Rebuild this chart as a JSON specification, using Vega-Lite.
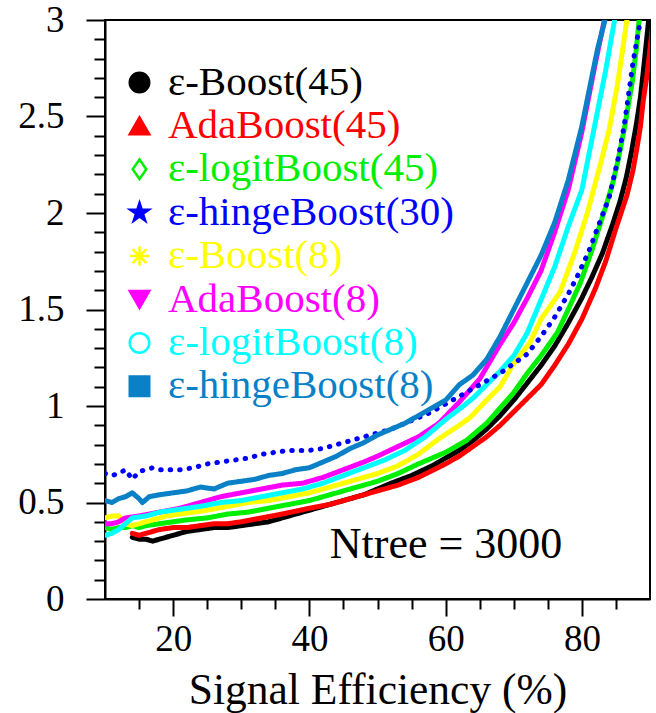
{
  "$schema": "https://vega.github.io/schema/vega-lite/v6.json",
  "width": 545,
  "height": 579,
  "autosize": {"type": "none"},
  "padding": {"left": 105, "top": 20, "right": 6, "bottom": 114},
  "background": "white",
  "config": {
    "font": "Liberation Serif",
    "view": {"stroke": "black", "strokeWidth": 2},
    "axis": {"grid": false, "domainColor": "black", "domainWidth": 2, "tickColor": "black", "tickWidth": 2, "labelColor": "black", "labelFont": "Liberation Serif", "titleFont": "Liberation Serif", "titleFontWeight": "normal", "titleColor": "black"},
    "legend": {"orient": "none", "legendX": 14, "legendY": 42, "labelFontSize": 41, "labelFont": "Liberation Serif", "labelLimit": 500, "symbolSize": 380, "symbolStrokeWidth": 2.5, "rowPadding": 1.4, "labelOffset": 8, "padding": 0, "symbolOpacity": 1}
  },
  "data": {"values": [
    {"s":"ε-Boost(45)","x":14,"y":0.32},{"s":"ε-Boost(45)","x":15,"y":0.31},{"s":"ε-Boost(45)","x":16,"y":0.31},{"s":"ε-Boost(45)","x":17,"y":0.30},{"s":"ε-Boost(45)","x":18,"y":0.31},{"s":"ε-Boost(45)","x":19,"y":0.32},{"s":"ε-Boost(45)","x":20,"y":0.33},{"s":"ε-Boost(45)","x":21,"y":0.34},{"s":"ε-Boost(45)","x":22,"y":0.35},{"s":"ε-Boost(45)","x":24,"y":0.36},{"s":"ε-Boost(45)","x":26,"y":0.37},{"s":"ε-Boost(45)","x":28,"y":0.37},{"s":"ε-Boost(45)","x":30,"y":0.38},{"s":"ε-Boost(45)","x":32,"y":0.39},{"s":"ε-Boost(45)","x":34,"y":0.40},{"s":"ε-Boost(45)","x":36,"y":0.42},{"s":"ε-Boost(45)","x":38,"y":0.44},{"s":"ε-Boost(45)","x":40,"y":0.46},{"s":"ε-Boost(45)","x":42,"y":0.48},{"s":"ε-Boost(45)","x":45,"y":0.51},{"s":"ε-Boost(45)","x":48,"y":0.54},{"s":"ε-Boost(45)","x":50,"y":0.57},{"s":"ε-Boost(45)","x":52,"y":0.60},{"s":"ε-Boost(45)","x":55,"y":0.64},{"s":"ε-Boost(45)","x":58,"y":0.69},{"s":"ε-Boost(45)","x":60,"y":0.73},{"s":"ε-Boost(45)","x":62,"y":0.77},{"s":"ε-Boost(45)","x":64,"y":0.82},{"s":"ε-Boost(45)","x":66,"y":0.88},{"s":"ε-Boost(45)","x":68,"y":0.95},{"s":"ε-Boost(45)","x":70,"y":1.03},{"s":"ε-Boost(45)","x":72,"y":1.12},{"s":"ε-Boost(45)","x":74,"y":1.21},{"s":"ε-Boost(45)","x":76,"y":1.31},{"s":"ε-Boost(45)","x":78,"y":1.43},{"s":"ε-Boost(45)","x":80,"y":1.56},{"s":"ε-Boost(45)","x":81.5,"y":1.67},{"s":"ε-Boost(45)","x":83,"y":1.79},{"s":"ε-Boost(45)","x":84.5,"y":1.94},{"s":"ε-Boost(45)","x":85.6,"y":2.06},{"s":"ε-Boost(45)","x":86.5,"y":2.18},{"s":"ε-Boost(45)","x":87.3,"y":2.32},{"s":"ε-Boost(45)","x":88,"y":2.46},{"s":"ε-Boost(45)","x":88.6,"y":2.6},{"s":"ε-Boost(45)","x":89.1,"y":2.76},{"s":"ε-Boost(45)","x":89.6,"y":2.93},{"s":"ε-Boost(45)","x":89.8,"y":3.0},
    {"s":"AdaBoost(45)","x":14,"y":0.34},{"s":"AdaBoost(45)","x":15,"y":0.33},{"s":"AdaBoost(45)","x":16,"y":0.34},{"s":"AdaBoost(45)","x":17,"y":0.35},{"s":"AdaBoost(45)","x":18,"y":0.36},{"s":"AdaBoost(45)","x":20,"y":0.37},{"s":"AdaBoost(45)","x":22,"y":0.37},{"s":"AdaBoost(45)","x":24,"y":0.38},{"s":"AdaBoost(45)","x":26,"y":0.39},{"s":"AdaBoost(45)","x":28,"y":0.39},{"s":"AdaBoost(45)","x":30,"y":0.40},{"s":"AdaBoost(45)","x":33,"y":0.42},{"s":"AdaBoost(45)","x":36,"y":0.44},{"s":"AdaBoost(45)","x":40,"y":0.47},{"s":"AdaBoost(45)","x":43,"y":0.49},{"s":"AdaBoost(45)","x":46,"y":0.52},{"s":"AdaBoost(45)","x":50,"y":0.56},{"s":"AdaBoost(45)","x":53,"y":0.59},{"s":"AdaBoost(45)","x":56,"y":0.63},{"s":"AdaBoost(45)","x":60,"y":0.70},{"s":"AdaBoost(45)","x":62,"y":0.74},{"s":"AdaBoost(45)","x":64,"y":0.79},{"s":"AdaBoost(45)","x":66,"y":0.84},{"s":"AdaBoost(45)","x":68,"y":0.90},{"s":"AdaBoost(45)","x":70,"y":0.97},{"s":"AdaBoost(45)","x":72,"y":1.04},{"s":"AdaBoost(45)","x":74,"y":1.11},{"s":"AdaBoost(45)","x":76,"y":1.21},{"s":"AdaBoost(45)","x":78,"y":1.32},{"s":"AdaBoost(45)","x":80,"y":1.45},{"s":"AdaBoost(45)","x":82,"y":1.61},{"s":"AdaBoost(45)","x":83.5,"y":1.75},{"s":"AdaBoost(45)","x":85,"y":1.92},{"s":"AdaBoost(45)","x":86.6,"y":2.09},{"s":"AdaBoost(45)","x":87.5,"y":2.22},{"s":"AdaBoost(45)","x":88.1,"y":2.34},{"s":"AdaBoost(45)","x":88.6,"y":2.45},{"s":"AdaBoost(45)","x":89,"y":2.58},{"s":"AdaBoost(45)","x":89.5,"y":2.7},{"s":"AdaBoost(45)","x":90,"y":2.85},{"s":"AdaBoost(45)","x":90.5,"y":3.0},
    {"s":"ε-logitBoost(45)","x":10,"y":0.37},{"s":"ε-logitBoost(45)","x":11,"y":0.36},{"s":"ε-logitBoost(45)","x":12,"y":0.37},{"s":"ε-logitBoost(45)","x":13,"y":0.37},{"s":"ε-logitBoost(45)","x":14,"y":0.38},{"s":"ε-logitBoost(45)","x":15,"y":0.37},{"s":"ε-logitBoost(45)","x":16,"y":0.38},{"s":"ε-logitBoost(45)","x":18,"y":0.39},{"s":"ε-logitBoost(45)","x":20,"y":0.40},{"s":"ε-logitBoost(45)","x":22,"y":0.41},{"s":"ε-logitBoost(45)","x":25,"y":0.42},{"s":"ε-logitBoost(45)","x":28,"y":0.44},{"s":"ε-logitBoost(45)","x":31,"y":0.45},{"s":"ε-logitBoost(45)","x":34,"y":0.47},{"s":"ε-logitBoost(45)","x":37,"y":0.49},{"s":"ε-logitBoost(45)","x":40,"y":0.51},{"s":"ε-logitBoost(45)","x":43,"y":0.54},{"s":"ε-logitBoost(45)","x":46,"y":0.57},{"s":"ε-logitBoost(45)","x":50,"y":0.61},{"s":"ε-logitBoost(45)","x":53,"y":0.65},{"s":"ε-logitBoost(45)","x":56,"y":0.70},{"s":"ε-logitBoost(45)","x":60,"y":0.76},{"s":"ε-logitBoost(45)","x":63,"y":0.82},{"s":"ε-logitBoost(45)","x":66,"y":0.91},{"s":"ε-logitBoost(45)","x":68,"y":0.99},{"s":"ε-logitBoost(45)","x":70,"y":1.07},{"s":"ε-logitBoost(45)","x":72,"y":1.17},{"s":"ε-logitBoost(45)","x":74,"y":1.26},{"s":"ε-logitBoost(45)","x":76.4,"y":1.38},{"s":"ε-logitBoost(45)","x":78,"y":1.50},{"s":"ε-logitBoost(45)","x":79.8,"y":1.64},{"s":"ε-logitBoost(45)","x":81.5,"y":1.81},{"s":"ε-logitBoost(45)","x":83.3,"y":2.01},{"s":"ε-logitBoost(45)","x":84.5,"y":2.15},{"s":"ε-logitBoost(45)","x":85.3,"y":2.27},{"s":"ε-logitBoost(45)","x":86.3,"y":2.45},{"s":"ε-logitBoost(45)","x":87.4,"y":2.68},{"s":"ε-logitBoost(45)","x":88,"y":2.85},{"s":"ε-logitBoost(45)","x":88.4,"y":3.0},
    {"s":"ε-Boost(8)","x":10,"y":0.42},{"s":"ε-Boost(8)","x":11,"y":0.43},{"s":"ε-Boost(8)","x":12,"y":0.43},{"s":"ε-Boost(8)","x":12.5,"y":0.41},{"s":"ε-Boost(8)","x":13,"y":0.39},{"s":"ε-Boost(8)","x":14,"y":0.38},{"s":"ε-Boost(8)","x":15,"y":0.39},{"s":"ε-Boost(8)","x":17,"y":0.41},{"s":"ε-Boost(8)","x":19,"y":0.43},{"s":"ε-Boost(8)","x":21,"y":0.44},{"s":"ε-Boost(8)","x":23,"y":0.45},{"s":"ε-Boost(8)","x":25,"y":0.46},{"s":"ε-Boost(8)","x":28,"y":0.48},{"s":"ε-Boost(8)","x":31,"y":0.50},{"s":"ε-Boost(8)","x":34,"y":0.51},{"s":"ε-Boost(8)","x":37,"y":0.53},{"s":"ε-Boost(8)","x":40,"y":0.55},{"s":"ε-Boost(8)","x":43,"y":0.58},{"s":"ε-Boost(8)","x":46,"y":0.61},{"s":"ε-Boost(8)","x":50,"y":0.65},{"s":"ε-Boost(8)","x":53,"y":0.69},{"s":"ε-Boost(8)","x":56,"y":0.75},{"s":"ε-Boost(8)","x":59,"y":0.83},{"s":"ε-Boost(8)","x":62,"y":0.90},{"s":"ε-Boost(8)","x":63.6,"y":0.94},{"s":"ε-Boost(8)","x":66,"y":1.03},{"s":"ε-Boost(8)","x":68,"y":1.10},{"s":"ε-Boost(8)","x":70,"y":1.22},{"s":"ε-Boost(8)","x":72.4,"y":1.33},{"s":"ε-Boost(8)","x":74,"y":1.45},{"s":"ε-Boost(8)","x":76.8,"y":1.59},{"s":"ε-Boost(8)","x":79,"y":1.80},{"s":"ε-Boost(8)","x":80.8,"y":2.0},{"s":"ε-Boost(8)","x":82.7,"y":2.25},{"s":"ε-Boost(8)","x":84,"y":2.43},{"s":"ε-Boost(8)","x":85.2,"y":2.66},{"s":"ε-Boost(8)","x":86,"y":2.85},{"s":"ε-Boost(8)","x":86.6,"y":3.0},
    {"s":"AdaBoost(8)","x":10,"y":0.39},{"s":"AdaBoost(8)","x":11,"y":0.39},{"s":"AdaBoost(8)","x":12,"y":0.40},{"s":"AdaBoost(8)","x":13,"y":0.42},{"s":"AdaBoost(8)","x":15,"y":0.43},{"s":"AdaBoost(8)","x":18,"y":0.45},{"s":"AdaBoost(8)","x":21,"y":0.47},{"s":"AdaBoost(8)","x":24,"y":0.50},{"s":"AdaBoost(8)","x":27,"y":0.53},{"s":"AdaBoost(8)","x":30,"y":0.55},{"s":"AdaBoost(8)","x":33,"y":0.57},{"s":"AdaBoost(8)","x":36,"y":0.59},{"s":"AdaBoost(8)","x":39,"y":0.60},{"s":"AdaBoost(8)","x":42,"y":0.63},{"s":"AdaBoost(8)","x":45,"y":0.67},{"s":"AdaBoost(8)","x":48,"y":0.71},{"s":"AdaBoost(8)","x":50,"y":0.74},{"s":"AdaBoost(8)","x":53,"y":0.79},{"s":"AdaBoost(8)","x":56,"y":0.84},{"s":"AdaBoost(8)","x":59,"y":0.91},{"s":"AdaBoost(8)","x":62,"y":1.02},{"s":"AdaBoost(8)","x":65,"y":1.14},{"s":"AdaBoost(8)","x":68,"y":1.32},{"s":"AdaBoost(8)","x":70,"y":1.43},{"s":"AdaBoost(8)","x":72,"y":1.56},{"s":"AdaBoost(8)","x":74,"y":1.70},{"s":"AdaBoost(8)","x":76,"y":1.90},{"s":"AdaBoost(8)","x":78,"y":2.12},{"s":"AdaBoost(8)","x":80,"y":2.42},{"s":"AdaBoost(8)","x":82,"y":2.78},{"s":"AdaBoost(8)","x":83.3,"y":3.0},
    {"s":"ε-logitBoost(8)","x":10,"y":0.33},{"s":"ε-logitBoost(8)","x":11,"y":0.34},{"s":"ε-logitBoost(8)","x":12,"y":0.36},{"s":"ε-logitBoost(8)","x":13,"y":0.39},{"s":"ε-logitBoost(8)","x":14,"y":0.42},{"s":"ε-logitBoost(8)","x":16,"y":0.43},{"s":"ε-logitBoost(8)","x":18,"y":0.45},{"s":"ε-logitBoost(8)","x":20,"y":0.46},{"s":"ε-logitBoost(8)","x":22,"y":0.47},{"s":"ε-logitBoost(8)","x":24,"y":0.48},{"s":"ε-logitBoost(8)","x":27,"y":0.50},{"s":"ε-logitBoost(8)","x":30,"y":0.51},{"s":"ε-logitBoost(8)","x":33,"y":0.53},{"s":"ε-logitBoost(8)","x":36,"y":0.55},{"s":"ε-logitBoost(8)","x":39,"y":0.57},{"s":"ε-logitBoost(8)","x":42,"y":0.60},{"s":"ε-logitBoost(8)","x":45,"y":0.64},{"s":"ε-logitBoost(8)","x":48,"y":0.68},{"s":"ε-logitBoost(8)","x":51,"y":0.72},{"s":"ε-logitBoost(8)","x":54,"y":0.77},{"s":"ε-logitBoost(8)","x":57,"y":0.84},{"s":"ε-logitBoost(8)","x":60,"y":0.93},{"s":"ε-logitBoost(8)","x":62.6,"y":1.00},{"s":"ε-logitBoost(8)","x":64,"y":1.04},{"s":"ε-logitBoost(8)","x":66,"y":1.11},{"s":"ε-logitBoost(8)","x":68,"y":1.18},{"s":"ε-logitBoost(8)","x":70,"y":1.26},{"s":"ε-logitBoost(8)","x":72,"y":1.38},{"s":"ε-logitBoost(8)","x":74,"y":1.55},{"s":"ε-logitBoost(8)","x":76,"y":1.72},{"s":"ε-logitBoost(8)","x":78,"y":1.93},{"s":"ε-logitBoost(8)","x":80,"y":2.12},{"s":"ε-logitBoost(8)","x":82.2,"y":2.51},{"s":"ε-logitBoost(8)","x":83.5,"y":2.74},{"s":"ε-logitBoost(8)","x":84.8,"y":3.0},
    {"s":"ε-hingeBoost(30)","x":10,"y":0.65},{"s":"ε-hingeBoost(30)","x":11,"y":0.64},{"s":"ε-hingeBoost(30)","x":12,"y":0.65},{"s":"ε-hingeBoost(30)","x":13,"y":0.67},{"s":"ε-hingeBoost(30)","x":14,"y":0.62},{"s":"ε-hingeBoost(30)","x":15,"y":0.66},{"s":"ε-hingeBoost(30)","x":16,"y":0.67},{"s":"ε-hingeBoost(30)","x":17,"y":0.68},{"s":"ε-hingeBoost(30)","x":18,"y":0.67},{"s":"ε-hingeBoost(30)","x":19,"y":0.67},{"s":"ε-hingeBoost(30)","x":21,"y":0.67},{"s":"ε-hingeBoost(30)","x":23,"y":0.68},{"s":"ε-hingeBoost(30)","x":25,"y":0.70},{"s":"ε-hingeBoost(30)","x":27,"y":0.71},{"s":"ε-hingeBoost(30)","x":29,"y":0.72},{"s":"ε-hingeBoost(30)","x":31,"y":0.73},{"s":"ε-hingeBoost(30)","x":33,"y":0.75},{"s":"ε-hingeBoost(30)","x":35,"y":0.76},{"s":"ε-hingeBoost(30)","x":37,"y":0.77},{"s":"ε-hingeBoost(30)","x":40,"y":0.77},{"s":"ε-hingeBoost(30)","x":42,"y":0.78},{"s":"ε-hingeBoost(30)","x":44,"y":0.80},{"s":"ε-hingeBoost(30)","x":46,"y":0.82},{"s":"ε-hingeBoost(30)","x":48,"y":0.84},{"s":"ε-hingeBoost(30)","x":50,"y":0.86},{"s":"ε-hingeBoost(30)","x":52,"y":0.88},{"s":"ε-hingeBoost(30)","x":54,"y":0.91},{"s":"ε-hingeBoost(30)","x":56,"y":0.94},{"s":"ε-hingeBoost(30)","x":58,"y":0.97},{"s":"ε-hingeBoost(30)","x":60,"y":1.01},{"s":"ε-hingeBoost(30)","x":62,"y":1.05},{"s":"ε-hingeBoost(30)","x":64,"y":1.09},{"s":"ε-hingeBoost(30)","x":66,"y":1.13},{"s":"ε-hingeBoost(30)","x":68,"y":1.17},{"s":"ε-hingeBoost(30)","x":70,"y":1.22},{"s":"ε-hingeBoost(30)","x":72,"y":1.27},{"s":"ε-hingeBoost(30)","x":74,"y":1.36},{"s":"ε-hingeBoost(30)","x":76,"y":1.46},{"s":"ε-hingeBoost(30)","x":78,"y":1.58},{"s":"ε-hingeBoost(30)","x":79.3,"y":1.67},{"s":"ε-hingeBoost(30)","x":81,"y":1.80},{"s":"ε-hingeBoost(30)","x":82.7,"y":1.96},{"s":"ε-hingeBoost(30)","x":84,"y":2.08},{"s":"ε-hingeBoost(30)","x":85.3,"y":2.28},{"s":"ε-hingeBoost(30)","x":86.2,"y":2.45},{"s":"ε-hingeBoost(30)","x":86.8,"y":2.60},{"s":"ε-hingeBoost(30)","x":87.5,"y":2.78},{"s":"ε-hingeBoost(30)","x":88.1,"y":2.9},{"s":"ε-hingeBoost(30)","x":88.6,"y":3.0},
    {"s":"ε-hingeBoost(8)","x":10,"y":0.51},{"s":"ε-hingeBoost(8)","x":11,"y":0.50},{"s":"ε-hingeBoost(8)","x":12,"y":0.52},{"s":"ε-hingeBoost(8)","x":13,"y":0.53},{"s":"ε-hingeBoost(8)","x":14,"y":0.55},{"s":"ε-hingeBoost(8)","x":15,"y":0.52},{"s":"ε-hingeBoost(8)","x":15.5,"y":0.50},{"s":"ε-hingeBoost(8)","x":16.5,"y":0.53},{"s":"ε-hingeBoost(8)","x":18,"y":0.54},{"s":"ε-hingeBoost(8)","x":20,"y":0.55},{"s":"ε-hingeBoost(8)","x":22,"y":0.56},{"s":"ε-hingeBoost(8)","x":24,"y":0.58},{"s":"ε-hingeBoost(8)","x":26,"y":0.57},{"s":"ε-hingeBoost(8)","x":28,"y":0.60},{"s":"ε-hingeBoost(8)","x":30,"y":0.61},{"s":"ε-hingeBoost(8)","x":32,"y":0.62},{"s":"ε-hingeBoost(8)","x":34,"y":0.64},{"s":"ε-hingeBoost(8)","x":36,"y":0.65},{"s":"ε-hingeBoost(8)","x":38,"y":0.67},{"s":"ε-hingeBoost(8)","x":40,"y":0.68},{"s":"ε-hingeBoost(8)","x":42,"y":0.71},{"s":"ε-hingeBoost(8)","x":44,"y":0.74},{"s":"ε-hingeBoost(8)","x":46,"y":0.78},{"s":"ε-hingeBoost(8)","x":48,"y":0.81},{"s":"ε-hingeBoost(8)","x":50,"y":0.85},{"s":"ε-hingeBoost(8)","x":52,"y":0.88},{"s":"ε-hingeBoost(8)","x":54,"y":0.91},{"s":"ε-hingeBoost(8)","x":56,"y":0.95},{"s":"ε-hingeBoost(8)","x":58,"y":0.99},{"s":"ε-hingeBoost(8)","x":60,"y":1.03},{"s":"ε-hingeBoost(8)","x":62,"y":1.11},{"s":"ε-hingeBoost(8)","x":64,"y":1.16},{"s":"ε-hingeBoost(8)","x":66,"y":1.24},{"s":"ε-hingeBoost(8)","x":68,"y":1.36},{"s":"ε-hingeBoost(8)","x":70,"y":1.50},{"s":"ε-hingeBoost(8)","x":72,"y":1.64},{"s":"ε-hingeBoost(8)","x":74,"y":1.78},{"s":"ε-hingeBoost(8)","x":76,"y":1.95},{"s":"ε-hingeBoost(8)","x":78,"y":2.17},{"s":"ε-hingeBoost(8)","x":80,"y":2.45},{"s":"ε-hingeBoost(8)","x":81.2,"y":2.66},{"s":"ε-hingeBoost(8)","x":82.3,"y":2.85},{"s":"ε-hingeBoost(8)","x":83.4,"y":3.0}
  ]},
  "layer": [
    {
      "mark": {"type": "line", "clip": true, "strokeCap": "round", "strokeJoin": "round"},
      "encoding": {
        "x": {"field": "x", "type": "quantitative", "scale": {"domain": [10, 90], "nice": false, "zero": false},
          "axis": {"orient": "bottom", "values": [20, 40, 60, 80], "tickSize": 17, "labelFontSize": 37, "labelFont": "Liberation Serif", "labelPadding": 34, "labelBaseline": "alphabetic", "labelFlush": false, "labelOverlap": false, "title": "Signal Efficiency (%)", "titleFont": "Liberation Serif", "titleFontWeight": "normal", "titleFontSize": 43.5, "titleY": 104, "titleBaseline": "alphabetic"}},
        "y": {"field": "y", "type": "quantitative", "scale": {"domain": [0, 3], "nice": false, "zero": false},
          "axis": {"orient": "left", "values": [0, 0.5, 1, 1.5, 2, 2.5, 3], "format": "~g", "tickSize": 19, "labelFontSize": 37, "labelFont": "Liberation Serif", "labelPadding": 22, "labelBaseline": "middle", "labelFlush": false, "labelOverlap": false, "title": null}},
        "stroke": {"field": "s", "type": "nominal",
          "scale": {"domain": ["ε-Boost(45)", "AdaBoost(45)", "ε-logitBoost(45)", "ε-Boost(8)", "AdaBoost(8)", "ε-logitBoost(8)", "ε-hingeBoost(30)", "ε-hingeBoost(8)"],
                    "range": ["#000000", "#ff0000", "#00ee00", "#ffff00", "#ff00ff", "#00ffff", "#0000ff", "#0a80c6"]},
          "legend": null},
        "strokeWidth": {"field": "s", "type": "nominal",
          "scale": {"domain": ["ε-Boost(45)", "AdaBoost(45)", "ε-logitBoost(45)", "ε-Boost(8)", "AdaBoost(8)", "ε-logitBoost(8)", "ε-hingeBoost(30)", "ε-hingeBoost(8)"],
                    "range": [5, 5, 8, 8, 5, 12, 4, 6]},
          "legend": null},
        "strokeDash": {"field": "s", "type": "nominal",
          "scale": {"domain": ["ε-Boost(45)", "AdaBoost(45)", "ε-logitBoost(45)", "ε-Boost(8)", "AdaBoost(8)", "ε-logitBoost(8)", "ε-hingeBoost(30)", "ε-hingeBoost(8)"],
                    "range": [[1, 0], [1, 0], [1, 0], [1, 0], [1, 0], [1, 0], [0.5, 9], [1, 0]]},
          "legend": null}
      }
    },
    {
      "mark": {"type": "point", "filled": false, "size": 0, "opacity": 1, "clip": true},
      "encoding": {
        "x": {"field": "x", "type": "quantitative",
          "axis": {"orient": "bottom", "values": [15, 25, 30, 35, 45, 50, 55, 65, 70, 75, 85], "tickSize": 10, "labels": false, "domain": false, "title": null}},
        "y": {"field": "y", "type": "quantitative",
          "axis": {"orient": "left", "values": [0.1, 0.2, 0.3, 0.4, 0.6, 0.7, 0.8, 0.9, 1.1, 1.2, 1.3, 1.4, 1.6, 1.7, 1.8, 1.9, 2.1, 2.2, 2.3, 2.4, 2.6, 2.7, 2.8, 2.9], "tickSize": 11, "labels": false, "domain": false, "title": null}},
        "color": {"field": "s", "type": "nominal",
          "scale": {"domain": ["ε-Boost(45)", "AdaBoost(45)", "ε-logitBoost(45)", "ε-hingeBoost(30)", "ε-Boost(8)", "AdaBoost(8)", "ε-logitBoost(8)", "ε-hingeBoost(8)"],
                    "range": ["#000000", "#ff0000", "#00ee00", "#0000ff", "#ffff00", "#ff00ff", "#00ffff", "#0a80c6"]},
          "legend": {"title": null, "labelFont": "Liberation Serif", "labelColor": {"expr": "scale('color', datum.value)"}}},
        "fill": {"field": "s", "type": "nominal",
          "scale": {"domain": ["ε-Boost(45)", "AdaBoost(45)", "ε-logitBoost(45)", "ε-hingeBoost(30)", "ε-Boost(8)", "AdaBoost(8)", "ε-logitBoost(8)", "ε-hingeBoost(8)"],
                    "range": ["#000000", "#ff0000", "transparent", "#0000ff", "transparent", "#ff00ff", "transparent", "#0a80c6"]}},
        "shape": {"field": "s", "type": "nominal",
          "scale": {"domain": ["ε-Boost(45)", "AdaBoost(45)", "ε-logitBoost(45)", "ε-hingeBoost(30)", "ε-Boost(8)", "AdaBoost(8)", "ε-logitBoost(8)", "ε-hingeBoost(8)"],
                    "range": ["circle", "triangle-up", "M0,-1L0.7,0L0,1L-0.7,0Z", "M0,-1L0.224,-0.307L0.951,-0.309L0.361,0.117L0.588,0.809L0,0.38L-0.588,0.809L-0.361,0.117L-0.951,-0.309L-0.224,-0.307Z", "M-1,0L1,0M0,-1L0,1M-0.71,-0.71L0.71,0.71M-0.71,0.71L0.71,-0.71", "triangle-down", "circle", "square"]}}
      }
    },
    {
      "data": {"values": [{}]},
      "mark": {"type": "text", "text": "Ntree = 3000", "fontSize": 44, "align": "left", "baseline": "alphabetic", "font": "Liberation Serif", "color": "black"},
      "encoding": {
        "x": {"datum": 43, "type": "quantitative", "axis": null},
        "y": {"datum": 0.215, "type": "quantitative", "axis": null}
      }
    }
  ],
  "resolve": {"axis": {"x": "independent", "y": "independent"}}
}
